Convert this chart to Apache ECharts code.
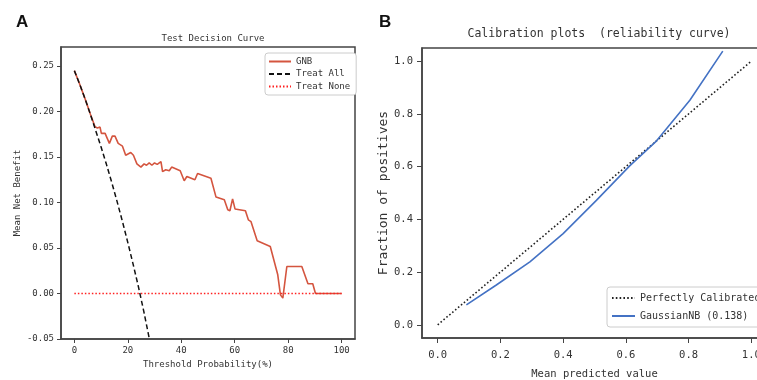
<!DOCTYPE html>
<html><head><meta charset="utf-8">
<script src="https://cdn.jsdelivr.net/npm/echarts@6/dist/echarts.min.js"></script>
<style>html,body{margin:0;padding:0;background:#fff}#c{width:757px;height:380px}</style>
</head><body><div id="c"></div>
<script>
// Panel A: decision curve
const gnbX = [0,2,4,6,7.7,8.6,9.6,10.1,11.5,13.1,14.2,15.2,16.4,18.0,19.2,21.1,22.1,23.4,24.9,26.1,27,28,29,30,31,32.4,33,34.2,35.5,36.4,39.6,41.1,42.1,45.1,46.1,51.1,53.0,56.1,57.4,58.2,59.2,60.1,64.0,65.1,66.1,68.4,73.3,76.1,77.1,78.0,79.5,85.1,87.4,89.2,90.2,100];
const gnbY = [0.245,0.230,0.214,0.197,0.1835,0.182,0.183,0.176,0.176,0.165,0.173,0.173,0.165,0.162,0.152,0.155,0.152,0.1425,0.139,0.1425,0.141,0.1435,0.141,0.1435,0.142,0.145,0.134,0.136,0.135,0.139,0.135,0.124,0.1286,0.125,0.132,0.1268,0.106,0.103,0.092,0.091,0.104,0.093,0.091,0.081,0.079,0.058,0.0517,0.0206,-0.0015,-0.005,0.0297,0.0297,0.0107,0.0107,0,0];
const allX = [0,2,4,6,8,10,12,14,16,18,20,22,24,26,28];
const allY = [0.245,0.230,0.214,0.197,0.179,0.161,0.142,0.122,0.101,0.079,0.056,0.032,0.007,-0.020,-0.049];
const noneX = [0,100];
const noneY = [0,0];
const aXTicks = [0,20,40,60,80,100];
const aYTicks = [-0.05,0,0.05,0.10,0.15,0.20,0.25];

// Panel B: calibration
const perfX = [0,1];
const perfY = [0,1];
const gnbCalX = [0.0915,0.187,0.294,0.400,0.506,0.613,0.698,0.804,0.909];
const gnbCalY = [0.0755,0.151,0.239,0.346,0.472,0.604,0.698,0.852,1.038];
const bTicks = [0,0.2,0.4,0.6,0.8,1.0];

const FONT = 'DejaVu Sans Mono';
const TXT = '#333';
const zip = (a,b)=>a.map((v,i)=>[v,b[i]]);

const chart = echarts.init(document.getElementById('c'), null, {renderer:'canvas'});
const axisCommon = {
  type:'value', splitLine:{show:false},
  axisLine:{show:true, onZero:false, lineStyle:{color:'#444', width:1.5}},
  axisTick:{show:true, inside:false, length:4, lineStyle:{color:'#444', width:1}},
};
chart.setOption({
  animation:false,
  backgroundColor:'#fff',
  title:[
    {text:'A', left:11, top:9, textStyle:{fontFamily:'Liberation Sans', fontWeight:'bold', fontSize:17, color:'#111'}},
    {text:'B', left:374, top:9, textStyle:{fontFamily:'Liberation Sans', fontWeight:'bold', fontSize:17, color:'#111'}},
    {text:'Test Decision Curve', left:208, textAlign:'center', top:29, textStyle:{fontFamily:FONT, fontWeight:'normal', fontSize:9, color:TXT}},
    {text:'Calibration plots  (reliability curve)', left:594, textAlign:'center', top:23, textStyle:{fontFamily:FONT, fontWeight:'normal', fontSize:11.5, color:TXT}}
  ],
  grid:[
    {left:61, top:47, width:294, height:292, outerBoundsMode:'none', show:true, borderColor:'#444', borderWidth:1.5, backgroundColor:'transparent'},
    {left:422, top:48, width:345, height:290, outerBoundsMode:'none', show:true, borderColor:'#444', borderWidth:1.5, backgroundColor:'transparent'}
  ],
  xAxis:[
    Object.assign({}, axisCommon, {gridIndex:0, min:-5, max:105,
      axisTick:Object.assign({}, axisCommon.axisTick, {customValues:aXTicks}),
      axisLabel:{customValues:aXTicks, fontFamily:FONT, fontSize:9, color:TXT, margin:7},
      name:'Threshold Probability(%)', nameLocation:'middle', nameGap:20,
      nameTextStyle:{fontFamily:FONT, fontSize:9, color:TXT}}),
    Object.assign({}, axisCommon, {gridIndex:1, min:-0.05, max:1.05,
      axisTick:Object.assign({}, axisCommon.axisTick, {length:5, customValues:bTicks}),
      axisLabel:{customValues:bTicks, fontFamily:FONT, fontSize:10.5, color:TXT, margin:12, formatter:v=>v.toFixed(1)},
      name:'Mean predicted value', nameLocation:'middle', nameGap:31,
      nameTextStyle:{fontFamily:FONT, fontSize:10.5, color:TXT, padding:[0,0,0,0]}})
  ],
  yAxis:[
    Object.assign({}, axisCommon, {gridIndex:0, min:-0.05, max:0.271,
      axisTick:Object.assign({}, axisCommon.axisTick, {customValues:aYTicks}),
      axisLabel:{customValues:aYTicks, fontFamily:FONT, fontSize:9, color:TXT, margin:7, formatter:v=>v.toFixed(2)},
      name:'Mean Net Benefit', nameLocation:'middle', nameGap:39,
      nameTextStyle:{fontFamily:FONT, fontSize:9, color:TXT}}),
    Object.assign({}, axisCommon, {gridIndex:1, min:-0.05, max:1.05,
      axisTick:Object.assign({}, axisCommon.axisTick, {length:5, customValues:bTicks}),
      axisLabel:{customValues:bTicks, fontFamily:FONT, fontSize:10.5, color:TXT, margin:9, formatter:v=>v.toFixed(1)},
      name:'Fraction of positives', nameLocation:'middle', nameGap:31,
      nameTextStyle:{fontFamily:FONT, fontSize:13, color:TXT}})
  ],
  legend:[
    {data:['GNB','Treat All','Treat None'], orient:'vertical', left:265, top:53, itemWidth:22, itemHeight:9, itemGap:3.5,
     padding:[4,6,4,3], borderColor:'#ccc', borderWidth:1, borderRadius:3, backgroundColor:'#fff',
     itemStyle:{opacity:0}, textStyle:{fontFamily:FONT, fontSize:9, color:TXT}},
    {data:['Perfectly Calibrated','GaussianNB (0.138)'], orient:'vertical', left:607, top:287, itemWidth:23, itemHeight:12, itemGap:8,
     padding:[6,6,6,4], borderColor:'#ccc', borderWidth:1, borderRadius:3, backgroundColor:'#fff',
     itemStyle:{opacity:0}, textStyle:{fontFamily:FONT, fontSize:10, color:TXT}}
  ],
  series:[
    {name:'GNB', type:'line', xAxisIndex:0, yAxisIndex:0, data:zip(gnbX,gnbY), symbol:'none',
     lineStyle:{color:'#d4553f', width:1.6}, itemStyle:{color:'#d4553f'}},
    {name:'Treat All', type:'line', xAxisIndex:0, yAxisIndex:0, data:zip(allX,allY), symbol:'none', smooth:false,
     lineStyle:{color:'#111', width:1.5, type:[5,3]}, itemStyle:{color:'#111'}},
    {name:'Treat None', type:'line', xAxisIndex:0, yAxisIndex:0, data:zip(noneX,noneY), symbol:'none',
     lineStyle:{color:'#ff2020', width:1.5, type:[1.5,2]}, itemStyle:{color:'#ff2020'}},
    {name:'Perfectly Calibrated', type:'line', xAxisIndex:1, yAxisIndex:1, data:zip(perfX,perfY), symbol:'none',
     lineStyle:{color:'#222', width:1.6, type:[1.6,2.2]}, itemStyle:{color:'#222'}},
    {name:'GaussianNB (0.138)', type:'line', xAxisIndex:1, yAxisIndex:1, data:zip(gnbCalX,gnbCalY), symbol:'none',
     lineStyle:{color:'#4472c4', width:1.6}, itemStyle:{color:'#4472c4'}}
  ]
});
</script></body></html>
